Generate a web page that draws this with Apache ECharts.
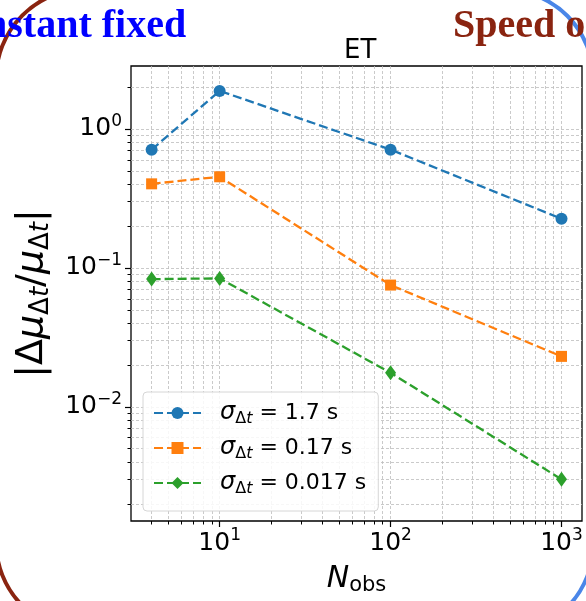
<!DOCTYPE html>
<html><head><meta charset="utf-8">
<script src="https://cdn.jsdelivr.net/npm/echarts@6/dist/echarts.min.js"></script>
<style>html,body{margin:0;padding:0;background:#fff}#c{width:586px;height:601px}</style>
</head><body><div id="c"></div>
<script>
// ---- data ----
const nObs = [4, 10, 100, 1000];
const err17 = [0.71, 1.88, 0.71, 0.226];
const err017 = [0.403, 0.453, 0.0753, 0.0231];
const err0017 = [0.0831, 0.0841, 0.0176, 0.00301];
const sigmaLabels = ['1.7', '0.17', '0.017'];
const xMajor = [10, 100, 1000];
const xMinor = [4,5,6,7,8,9,20,30,40,50,60,70,80,90,200,300,400,500,600,700,800,900];
const yMajor = [0.01, 0.1, 1];
const yMinor = [0.002,0.003,0.004,0.005,0.006,0.007,0.008,0.009,0.02,0.03,0.04,0.05,0.06,0.07,0.08,0.09,0.2,0.3,0.4,0.5,0.6,0.7,0.8,0.9,2];

const FONT = '"DejaVu Sans", sans-serif';
const xAll = xMinor.concat(xMajor).sort((a,b)=>a-b);
const yAll = yMinor.concat(yMajor).sort((a,b)=>a-b);

function powLabel(v){
  const e = Math.round(Math.log10(v));
  return '{b|10}{sup|' + (e < 0 ? '\u2212' + (-e) : e) + '}';
}
const tickRich = {
  b: {fontSize: 25, fontFamily: FONT, color: '#000', lineHeight: 32},
  sup: {fontSize: 17, fontFamily: FONT, color: '#000', verticalAlign: 'top', lineHeight: 18}
};
const gridLine = {show: true, lineStyle: {color: '#bdbdbd', width: 0.8, type: [3, 2]}};

function mk(name, vals, color, symbol, size){
  return {
    name: name, type: 'line', data: nObs.map((x, i) => [x, vals[i]]),
    symbol: symbol, symbolSize: size,
    itemStyle: {color: color},
    lineStyle: {color: color, width: 2.3, type: [9, 4]},
    z: 5
  };
}
const colors = ['#1f77b4', '#ff7f0e', '#2ca02c'];
const names = sigmaLabels.map(s => 'σΔt = ' + s + ' s');

const chart = echarts.init(document.getElementById('c'));
chart.setOption({
  animation: false,
  backgroundColor: '#fff',
  title: {
    text: 'ET', left: 339, top: 33,
    textStyle: {fontFamily: FONT, fontSize: 26, fontWeight: 'normal', color: '#000'}
  },
  grid: {left: 131, top: 66, right: 4, bottom: 78, show: true, borderColor: '#000', borderWidth: 1.3, backgroundColor: 'transparent'},
  legend: {
    orient: 'vertical', left: 143, top: 392,
    padding: [9, 12, 14, 10], itemGap: 9,
    itemWidth: 47, itemHeight: 15,
    backgroundColor: 'rgba(255,255,255,0.85)', borderColor: '#d6d6d6', borderWidth: 1, borderRadius: 4,
    data: names,
    formatter: function(name){
      const i = names.indexOf(name);
      return '{i|σ}{s|Δ}{si|t}{n| = ' + sigmaLabels[i] + ' s}';
    },
    textStyle: {
      padding: [0, 0, 0, 14],
      rich: {
        i: {fontSize: 24, fontStyle: 'italic', fontFamily: FONT, color: '#000', lineHeight: 28},
        s: {fontSize: 16, fontFamily: FONT, color: '#000', verticalAlign: 'bottom', lineHeight: 16},
        si: {fontSize: 16, fontStyle: 'italic', fontFamily: FONT, color: '#000', verticalAlign: 'bottom', lineHeight: 16},
        n: {fontSize: 22, fontFamily: FONT, color: '#000', lineHeight: 28}
      }
    }
  },
  xAxis: [{
    type: 'log', min: 3.03, max: 1318, position: 'bottom',
    axisLine: {show: false},
    axisTick: {show: true, customValues: xAll, length: 3.5, lineStyle: {color: '#000', width: 1}},
    axisLabel: {customValues: xMajor, formatter: powLabel, rich: tickRich, margin: 6},
    splitLine: gridLine,
    name: '{n|N}{s|obs}', nameLocation: 'middle', nameGap: 41,
    nameTextStyle: {rich: {
      n: {fontSize: 30, fontStyle: 'italic', fontFamily: FONT, color: '#000', lineHeight: 34},
      s: {fontSize: 21, fontFamily: FONT, color: '#000', verticalAlign: 'bottom', lineHeight: 19}
    }}
  }, {
    type: 'log', min: 3.03, max: 1318, position: 'bottom',
    axisLine: {show: false},
    axisTick: {show: true, customValues: xMajor, length: 6, lineStyle: {color: '#000', width: 1.2}},
    axisLabel: {show: false}, splitLine: {show: false}
  }],
  yAxis: [{
    type: 'log', min: 0.00151, max: 2.84, position: 'left',
    axisLine: {show: false},
    axisTick: {show: true, customValues: yAll, length: 3.5, lineStyle: {color: '#000', width: 1}},
    axisLabel: {customValues: yMajor, formatter: powLabel, rich: tickRich, margin: 9},
    splitLine: gridLine,
    name: '{n|\u007CΔ}{i|μ}{s|Δ}{si|t}{n|/}{i|μ}{s|Δ}{si|t}{n|\u007C}',
    nameLocation: 'middle', nameGap: 76, nameRotate: 90,
    nameTextStyle: {rich: {
      n: {fontSize: 38, fontFamily: FONT, color: '#000', lineHeight: 44},
      i: {fontSize: 38, fontStyle: 'italic', fontFamily: FONT, color: '#000', lineHeight: 44},
      s: {fontSize: 26, fontFamily: FONT, color: '#000', verticalAlign: 'bottom', lineHeight: 24},
      si: {fontSize: 26, fontStyle: 'italic', fontFamily: FONT, color: '#000', verticalAlign: 'bottom', lineHeight: 24}
    }}
  }, {
    type: 'log', min: 0.00151, max: 2.84, position: 'left',
    axisLine: {show: false},
    axisTick: {show: true, customValues: yMajor, length: 6, lineStyle: {color: '#000', width: 1.2}},
    axisLabel: {show: false}, splitLine: {show: false}
  }],
  series: [
    mk(names[0], err17, colors[0], 'circle', 12),
    mk(names[1], err017, colors[1], 'rect', 11),
    mk(names[2], err0017, colors[2], 'diamond', [11, 15])
  ],
  graphic: [
    {type: 'rect', silent: true, z: 0, shape: {x: -4, y: -11, width: 900, height: 643, r: 90},
     style: {fill: 'none', stroke: '#8a2410', lineWidth: 4}},
    {type: 'rect', silent: true, z: 0, shape: {x: -400, y: -10, width: 993, height: 643, r: 88},
     style: {fill: 'none', stroke: '#4a86e8', lineWidth: 4}},
    {type: 'text', silent: true, z: 1, x: -15, y: 27,
     style: {text: 'nstant fixed', fill: '#0000ff', font: 'bold 40px "Liberation Serif", serif', verticalAlign: 'middle', align: 'left'}},
    {type: 'text', silent: true, z: 1, x: 453, y: 27,
     style: {text: 'Speed o', fill: '#8a2410', font: 'bold 40px "Liberation Serif", serif', verticalAlign: 'middle', align: 'left'}}
  ]
});
</script>
</body></html>
